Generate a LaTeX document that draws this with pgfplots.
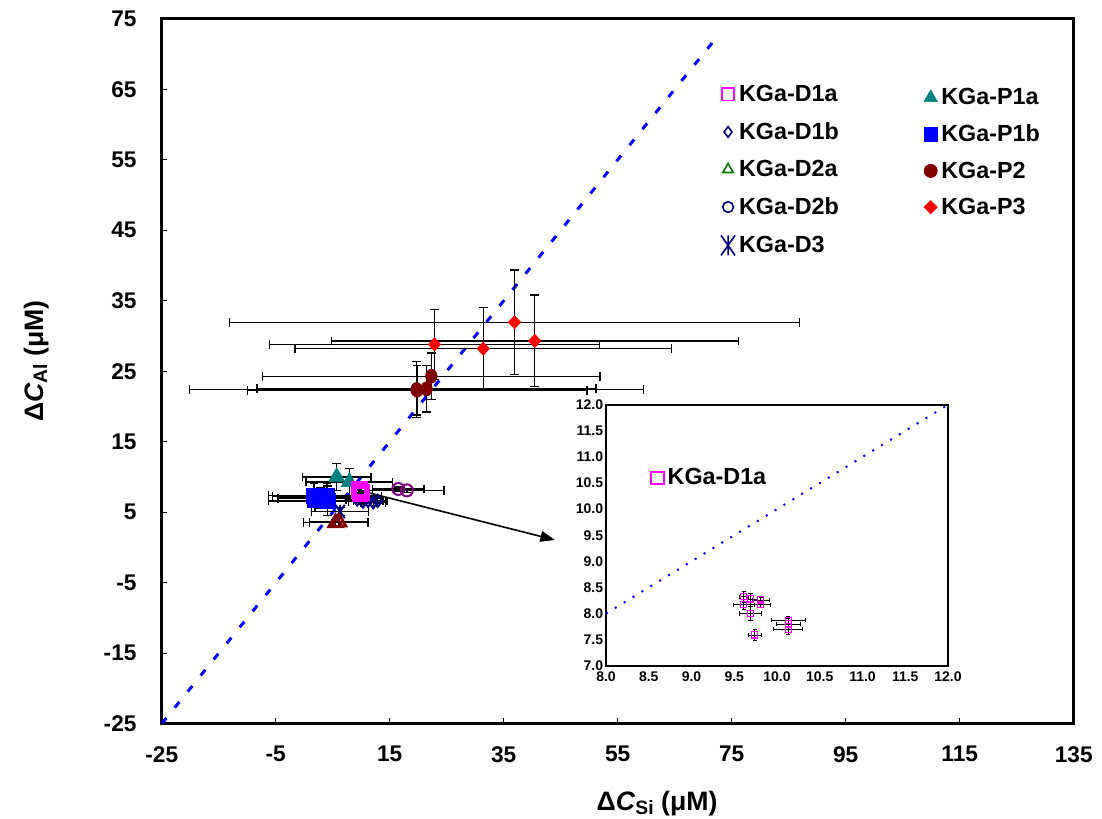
\documentclass[border=0pt]{standalone}
\usepackage{pgfplots}
\pgfplotsset{compat=1.18}
\usepackage{pgfplotstable}
\usepackage{fontspec}
\setmainfont{Liberation Sans}
\usetikzlibrary{arrows.meta}
\definecolor{cmag}{RGB}{255,0,255}
\definecolor{cnavy}{RGB}{0,0,128}
\definecolor{cgreen}{RGB}{0,128,0}
\definecolor{cpurple}{RGB}{128,0,128}
\definecolor{cteal}{RGB}{0,128,128}
\definecolor{cblue}{RGB}{0,0,255}
\definecolor{cmaroon}{RGB}{128,0,0}
\definecolor{cred}{RGB}{255,0,0}
\pgfdeclareplotmark{xbar}{%
 \pgfpathmoveto{\pgfqpoint{0pt}{\pgfplotmarksize}}%
 \pgfpathlineto{\pgfqpoint{0pt}{-\pgfplotmarksize}}%
 \pgfpathmoveto{\pgfqpoint{-0.7\pgfplotmarksize}{\pgfplotmarksize}}%
 \pgfpathlineto{\pgfqpoint{0.7\pgfplotmarksize}{-\pgfplotmarksize}}%
 \pgfpathmoveto{\pgfqpoint{0.7\pgfplotmarksize}{\pgfplotmarksize}}%
 \pgfpathlineto{\pgfqpoint{-0.7\pgfplotmarksize}{-\pgfplotmarksize}}%
 \pgfusepathqstroke}
% ---------------- data ----------------
\pgfplotstableread{
x y ex ey
22.85 28.8 29.0 5.0
31.4 28.2 33.0 5.85
36.9 31.95 50.0 7.4
40.45 29.3 35.7 6.5
}\tPthree
\pgfplotstableread{
x y ex ey
19.7 22.4 39.8 4.0
19.8 22.3 29.8 3.5
21.45 22.5 29.75 3.3
22.3 24.3 29.6 3.3
}\tPtwo
\pgfplotstableread{
x y ex ey
5.7 10.0 6.0 1.9
7.9 9.3 7.6 1.9
}\tPonea
\pgfplotstableread{
x y ex ey
1.7 7.35 8.0 1.7
4.1 6.6 10.4 2.1
2.9 7.0 7.5 1.5
1.9 6.7 8.2 1.6
4.0 7.3 9.6 1.8
}\tPoneb
\pgfplotstableread{
x y ex ey
9.61 8.32 0.05 0.11
9.61 8.17 0.125 0.10
9.69 8.28 0.08 0.11
9.69 8.00 0.13 0.13
9.81 8.26 0.10 0.05
9.81 8.17 0.117 0.05
9.74 7.59 0.074 0.11
10.13 7.87 0.20 0.08
10.13 7.80 0.14 0.10
10.13 7.70 0.17 0.10
}\tDonea
\pgfplotstableread{
x y ex ey
9.3 6.8 2.0 0.4
10.3 6.5 2.5 0.4
11.2 6.6 2.6 0.4
12.1 6.4 2.2 0.4
12.9 6.6 1.5 0.4
}\tDoneb
\pgfplotstableread{
x y ex ey
5.5 3.5 5.6 0.5
6.1 3.6 5.2 0.5
}\tDtwoa
\pgfplotstableread{
x y ex ey
16.5 8.3 4.5 0.3
18.0 8.1 6.5 0.3
}\tDtwob
\pgfplotstableread{
x y ex ey
6.3 5.1 5.0 0.6
}\tDthree
\pgfplotsset{
 errb/.style={/pgfplots/error bars/x dir=both, /pgfplots/error bars/x explicit,
   /pgfplots/error bars/y dir=both, /pgfplots/error bars/y explicit,
   /pgfplots/error bars/error bar style={black, line width=1pt, solid},
   /pgfplots/error bars/error mark options={rotate=90, black, line width=1pt, mark size=3.3pt, solid}},
 errs/.style={/pgfplots/error bars/x dir=both, /pgfplots/error bars/x explicit,
   /pgfplots/error bars/y dir=both, /pgfplots/error bars/y explicit,
   /pgfplots/error bars/error bar style={black, line width=0.6pt, solid},
   /pgfplots/error bars/error mark options={rotate=90, black, line width=0.6pt, mark size=1.6pt, solid}},
 mylegend/.style={legend cell align=left,
   legend style={draw=none, fill=none, inner sep=0pt, anchor=north west,
     font=\fontsize{17.5}{20}\selectfont\bfseries,
     nodes={inner xsep=3pt, inner ysep=0pt}, row sep=#1}},
}
\begin{document}
\begin{tikzpicture}
% ---------------- main axis ----------------
\begin{axis}[
 at={(0pt,0pt)}, anchor=south west,
 width=684pt, height=528.75pt, scale only axis,
 xmin=-25, xmax=135, ymin=-25, ymax=75,
 xtick={-25,-5,...,135}, ytick={-25,-15,...,75},
 tick pos=left, tick align=inside, major tick length=4pt,
 axis line style={line width=2pt},
 tick style={black, line width=1pt},
 tick label style={font=\fontsize{17}{20}\selectfont\bfseries},
 /pgf/number format/assume math mode=true,
 xticklabel style={anchor=north, inner sep=0pt, yshift=-16.7pt},
 yticklabel style={anchor=east, inner sep=0pt, xshift=-18.75pt},
 mylegend=14.2pt,
 legend style={at={(0.613,0.906)}},
]
\addplot[cblue, line width=2.25pt, dash pattern=on 5.5pt off 10pt, forget plot] coordinates {(-25,-25) (73,73)};
\addplot[only marks, mark=diamond*, mark size=5pt, mark options={xscale=1.25}, color=cred, forget plot, errb] table[x=x,y=y,x error=ex,y error=ey]{\tPthree};
\addplot[only marks, mark=*, mark size=5.3pt, mark options={xscale=0.82}, color=cmaroon, forget plot, errb] table[x=x,y=y,x error=ex,y error=ey]{\tPtwo};
\addplot[only marks, mark=diamond, mark size=4.5pt, mark options={line width=1.5pt}, color=cnavy, forget plot, errb] table[x=x,y=y,x error=ex,y error=ey]{\tDoneb};
\addplot[only marks, mark=o, mark size=4.5pt, mark options={line width=1.5pt}, color=cpurple, forget plot, errb] table[x=x,y=y,x error=ex,y error=ey]{\tDtwob};
\addplot[only marks, mark=square*, mark size=5.5pt, color=cblue, forget plot, errb] table[x=x,y=y,x error=ex,y error=ey]{\tPoneb};
\addplot[only marks, mark=triangle*, mark size=7pt, color=cteal, forget plot, errb] table[x=x,y=y,x error=ex,y error=ey]{\tPonea};
\addplot[only marks, mark=xbar, mark size=5pt, mark options={line width=1.5pt}, color=cnavy, forget plot, errb] table[x=x,y=y,x error=ex,y error=ey]{\tDthree};
\addplot[only marks, mark=triangle, mark size=6pt, mark options={line width=2pt}, color=cmaroon, forget plot, errb] table[x=x,y=y,x error=ex,y error=ey]{\tDtwoa};
\addplot[only marks, mark=square, mark size=5pt, mark options={line width=2pt}, color=cmag, forget plot, errs] table[x=x,y=y,x error=ex,y error=ey]{\tDonea};
\draw[black, line width=1.2pt, -{Triangle[length=11pt,width=8pt]}] (axis cs:10.1,8.0) -- (axis cs:44,1.06);
\addlegendimage{only marks, mark=square, mark size=4.6pt, cmag, mark options={line width=1.2pt}}
\addlegendentry{KGa-D1a}
\addlegendimage{only marks, mark=diamond, mark size=4pt, cnavy, mark options={line width=1.2pt}}
\addlegendentry{KGa-D1b}
\addlegendimage{only marks, mark=triangle, mark size=4.5pt, cgreen, mark options={line width=1.2pt}}
\addlegendentry{KGa-D2a}
\addlegendimage{only marks, mark=o, mark size=4pt, cnavy, mark options={line width=1.2pt}}
\addlegendentry{KGa-D2b}
\addlegendimage{only marks, mark=xbar, mark size=7.5pt, cnavy, mark options={line width=1.2pt}}
\addlegendentry{KGa-D3}
\end{axis}
% ---------------- right legend column ----------------
\begin{axis}[
 at={(0pt,0pt)}, anchor=south west,
 width=684pt, height=528.75pt, scale only axis, hide axis,
 xmin=0, xmax=1, ymin=0, ymax=1,
 mylegend=13.5pt,
 legend style={at={(0.8355,0.9013)}},
]
\addlegendimage{only marks, mark=triangle*, mark size=5.8pt, cteal}
\addlegendentry{KGa-P1a}
\addlegendimage{only marks, mark=square*, mark size=5pt, cblue}
\addlegendentry{KGa-P1b}
\addlegendimage{only marks, mark=*, mark size=5pt, cmaroon}
\addlegendentry{KGa-P2}
\addlegendimage{only marks, mark=diamond*, mark size=5pt, cred, mark options={xscale=1.33}}
\addlegendentry{KGa-P3}
\end{axis}
% ---------------- inset ----------------
\begin{axis}[
 at={(333.2pt,43.5pt)}, anchor=south west,
 width=256.5pt, height=195.75pt, scale only axis,
 xmin=8, xmax=12, ymin=7, ymax=12,
 xtick={8,8.5,...,12}, ytick={7,7.5,...,12},
 major tick length=0pt, tick pos=left,
 axis line style={line width=1.2pt},
 axis background/.style={fill=white},
 tick label style={font=\fontsize{10.5}{12}\selectfont\bfseries},
 /pgf/number format/assume math mode=true,
 /pgf/number format/fixed, /pgf/number format/fixed zerofill, /pgf/number format/precision=1,
 xticklabel style={anchor=north, inner sep=0pt, yshift=-4.5pt},
 yticklabel style={anchor=east, inner sep=0pt, xshift=-2pt},
 mylegend=10pt,
 legend style={at={(0.132,0.756)}},
]
\addplot[cblue, line width=1.5pt, dash pattern=on 1.5pt off 6.3pt, forget plot] coordinates {(8,8) (12,12)};
\addplot[only marks, mark=square, mark size=2.3pt, mark options={line width=0.8pt}, color=cmag, forget plot, errs] table[x=x,y=y,x error=ex,y error=ey]{\tDonea};
\addlegendimage{only marks, mark=square, mark size=4.6pt, cmag, mark options={line width=1.5pt}}
\addlegendentry{KGa-D1a}
\end{axis}
% ---------------- axis titles ----------------
\node[anchor=base] at (371.5pt,-64.7pt) {\fontsize{20}{24}\selectfont\bfseries Δ\textit{C}\raisebox{-3pt}{\fontsize{14.5}{16}\selectfont Si} (μM)};
\node[rotate=90, anchor=base] at (-89pt,272pt) {\fontsize{20}{24}\selectfont\bfseries Δ\textit{C}\raisebox{-3pt}{\fontsize{14.5}{16}\selectfont Al} (μM)};
\pgfresetboundingbox
\path[use as bounding box] (-121.3pt,-70.7pt) rectangle (705.2pt,542.8pt);
\end{tikzpicture}
\end{document}
